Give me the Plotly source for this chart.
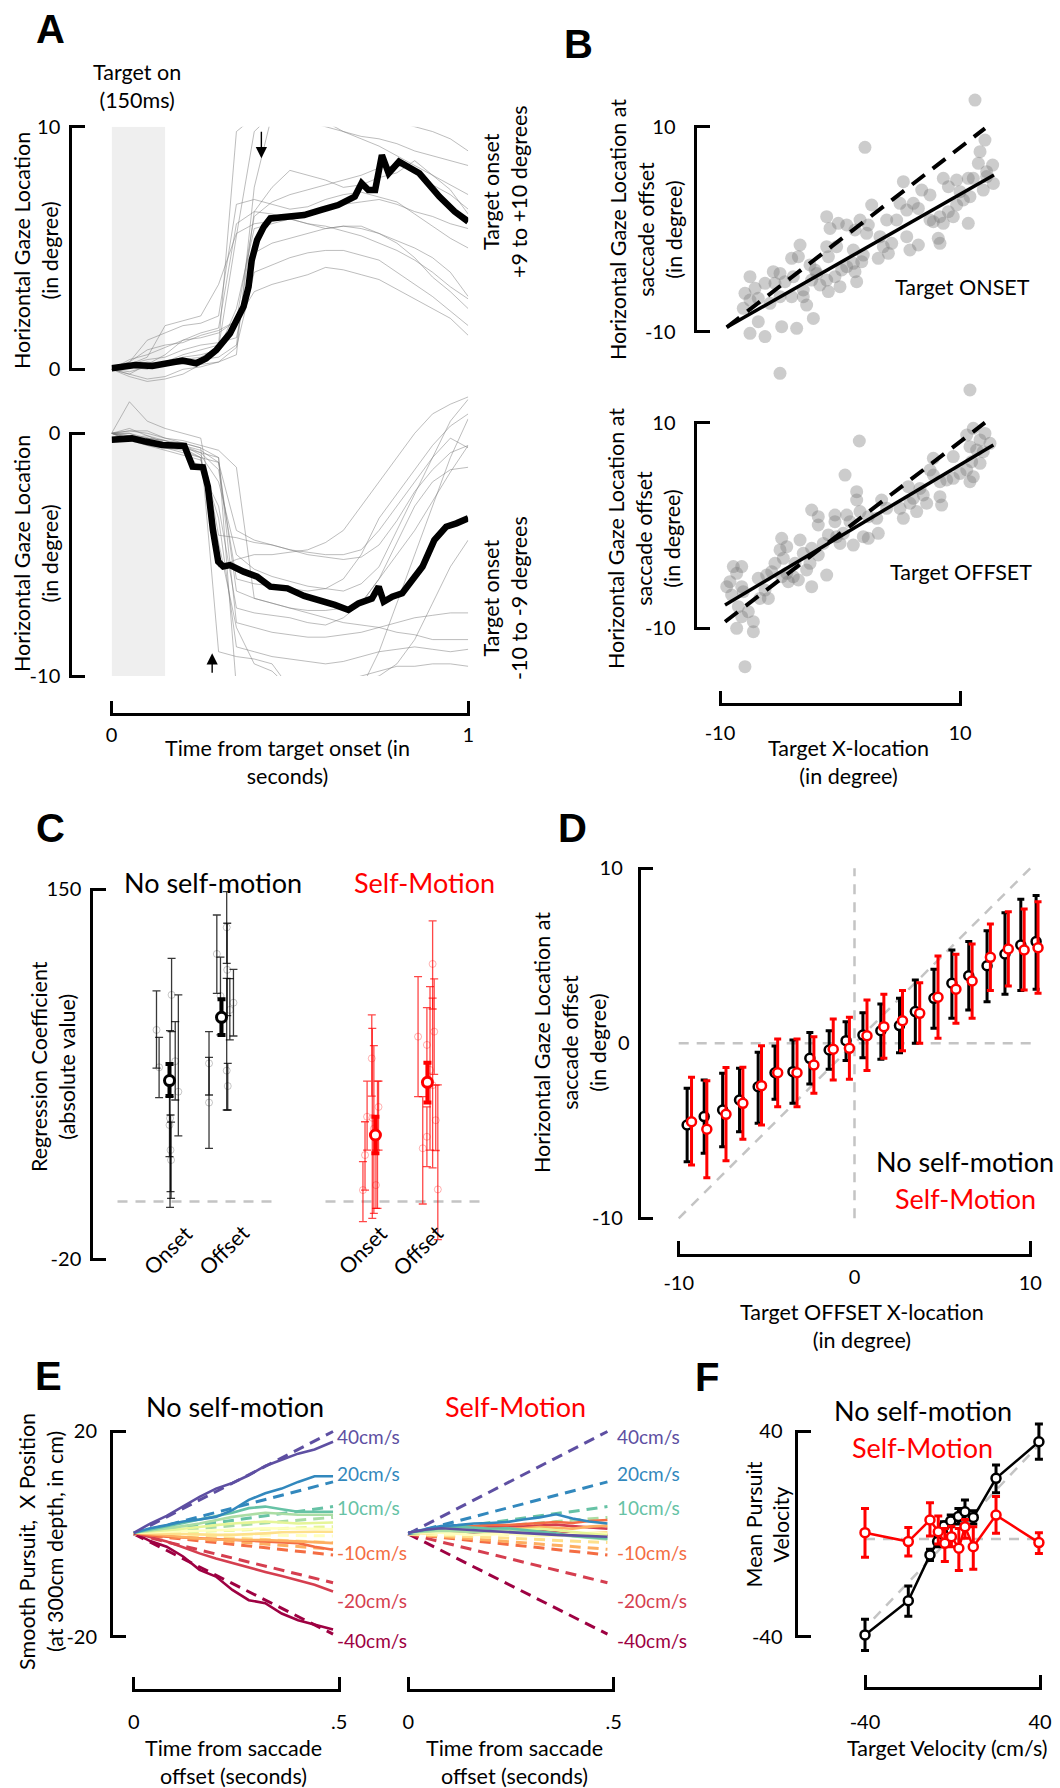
import plotly.graph_objects as go

W, H = 1060, 1788
FONT = "Lato"
RED = "#ff0000"
REFC = "#c4c4c4"
LW = 2.5

# ======================= DATA =======================
# ---- Panel A : gaze traces (time in s, position in deg) ----
a_t = [0.00, 0.05, 0.10, 0.15, 0.20, 0.25, 0.30, 0.35, 0.40, 0.45, 0.50,
       0.55, 0.60, 0.65, 0.70, 0.75, 0.80, 0.85, 0.90, 0.95, 1.00]
a_pos_trials = [
    [0, 0.1, 0.3, 0.2, 0.4, 0.5, 0.9, 5.5, 9.8, 10.5, 11, 11, 11, 11, 10.8, 10.5, 10.2, 10, 9.8, 9.5, 9.0],
    [0, -0.2, 0.2, 0.6, 1.2, 1.3, 1.5, 2.0, 6.3, 6.9, 7.2, 7.4, 7.6, 7.8, 8.0, 8.3, 8.4, 8.2, 7.6, 7.2, 6.6],
    [0.1, 0.3, 1.2, 1.5, 1.8, 1.9, 2.2, 6.8, 7.0, 6.8, 6.6, 6.7, 7.0, 7.2, 7.3, 7.1, 6.9, 6.4, 5.9, 5.4, 5.0],
    [0, 0.2, 0.4, 0.5, 0.8, 1.0, 1.1, 1.3, 4.8, 5.2, 5.4, 5.6, 5.8, 5.9, 5.8, 5.6, 5.2, 4.6, 3.8, 3.2, 2.5],
    [0, -0.3, -0.5, -0.4, -0.2, 0.2, 0.3, 0.9, 4.0, 4.3, 4.6, 4.8, 4.9, 4.9, 4.7, 4.5, 4.0, 3.5, 3.0, 2.4, 1.8],
    [0, 0.2, 0.5, 1.8, 2.0, 2.2, 3.5, 5.6, 6.0, 6.1, 6.3, 6.4, 6.6, 6.8, 6.9, 7.0, 6.8, 6.5, 6.3, 6.0, 5.8],
    [0, 0.1, 0.0, 0.3, 0.5, 0.6, 0.8, 2.5, 5.8, 6.0, 6.2, 6.0, 5.8, 5.9, 5.9, 5.6, 5.3, 5.0, 4.6, 4.0, 3.0],
    [0, 0.3, 0.8, 1.0, 1.1, 1.4, 1.6, 2.0, 3.2, 3.5, 3.7, 3.9, 4.2, 4.1, 3.9, 3.7, 3.3, 2.9, 2.5, 2.1, 1.4],
    [0, 0.1, 0.2, 0.3, 0.6, 0.8, 1.0, 9.8, 10.4, 10.8, 10.5, 10.2, 10.0, 9.8, 9.6, 9.5, 9.3, 9.0, 8.8, 8.6, 8.4],
    [0, -0.1, 0.1, 0.2, 0.2, 0.4, 0.5, 1.0, 6.5, 7.5, 8.2, 8.0, 7.8, 7.5, 7.6, 7.9, 8.1, 8.6, 8.0, 7.4, 6.4],
    [0, 0.4, 0.6, 0.9, 1.2, 1.5, 1.7, 6.0, 6.5, 6.4, 6.2, 6.0, 5.9, 5.7, 5.5, 5.2, 4.9, 4.5, 4.0, 3.4, 2.9],
    [0, -0.2, -0.4, -0.3, 0.0, 0.1, 0.3, 0.6, 7.5, 10.5, 10.8, 10.6, 10.2, 9.8, 9.5, 9.2, 8.8, 8.4, 8.0, 7.6, 7.2],
]
a_pos_mean_t = [0, 0.066, 0.114, 0.161, 0.199, 0.237, 0.265, 0.294, 0.332, 0.351, 0.370, 0.384, 0.393,
                0.408, 0.427, 0.445, 0.483, 0.540, 0.588, 0.635, 0.682, 0.701, 0.720, 0.739, 0.758,
                0.777, 0.806, 0.863, 0.919, 0.962, 1.0]
a_pos_mean_y = [0.04, 0.18, 0.14, 0.27, 0.36, 0.25, 0.45, 0.80, 1.48, 2.03, 2.58, 3.40, 4.50,
                5.33, 5.88, 6.22, 6.29, 6.36, 6.57, 6.77, 7.12, 7.67, 7.39, 7.39, 8.83,
                8.08, 8.56, 8.08, 7.12, 6.50, 6.09]
a_neg_trials = [
    [0, -0.2, -0.4, -0.5, -0.6, -1.0, -5.5, -5.2, -5.0, -5.0, -4.9, -4.8, -4.5, -4.0, -3.0, -2.0, -1.0, 0.0, 0.8, 1.2, 1.5],
    [0, -0.3, -0.2, -0.4, -0.5, -0.8, -1.5, -6.0, -6.2, -6.3, -6.4, -6.5, -6.4, -6.0, -5.0, -3.5, -2.5, -1.5, -0.5, 0.3, 0.8],
    [0, 0.0, -0.3, -0.6, -0.7, -1.0, -4.5, -8.0, -9.5, -9.8, -10.5, -11, -11, -11, -10.5, -9.0, -7.0, -5.0, -3.0, -1.0, 0.6],
    [0, -0.1, -0.2, -0.3, -0.6, -1.5, -3.0, -7.2, -7.4, -7.5, -7.6, -7.8, -7.9, -7.6, -7.0, -6.0, -5.0, -4.0, -2.8, -1.6, -0.5],
    [0, 0.2, -0.1, -0.4, -0.5, -0.7, -1.2, -4.0, -4.4, -4.6, -4.8, -5.0, -5.1, -5.2, -5.1, -4.6, -3.6, -2.4, -1.5, -0.8, -0.5],
    [0, 0.1, 0.1, -0.2, -0.4, -0.6, -9.0, -9.2, -9.3, -9.5, -10.5, -10.6, -10.5, -10.4, -10.2, -10.0, -9.5, -8.5, -7.0, -5.5, -4.4],
    [0, -0.2, -0.5, -0.6, -0.8, -1.0, -1.2, -6.5, -6.8, -7.0, -7.2, -7.4, -7.6, -7.8, -7.9, -8.0, -8.2, -8.3, -8.5, -8.5, -8.5],
    [0, 0.0, -0.2, -0.3, -0.5, -0.9, -2.0, -5.0, -5.6, -5.9, -6.1, -6.3, -6.4, -6.5, -6.2, -5.5, -4.0, -2.5, -1.0, 0.5, 1.4],
    [0, -0.3, -0.5, -0.7, -0.9, -1.1, -3.5, -8.8, -9.0, -9.2, -9.3, -9.4, -9.5, -9.4, -9.2, -9.0, -8.9, -8.8, -8.9, -9.0, -8.9],
    [0, 0.1, 0.0, -0.2, -0.3, -0.5, -0.7, -1.4, -6.8, -7.0, -7.2, -7.3, -7.3, -7.2, -7.0, -6.0, -4.5, -3.0, -2.0, -1.5, -1.4],
    [0, -0.1, -0.3, -0.4, -0.6, -0.8, -1.0, -7.8, -8.0, -8.2, -8.3, -8.4, -8.4, -8.3, -8.2, -8.0, -7.8, -7.6, -7.5, -7.4, -7.4],
    [0, 1.3, 0.5, 0.2, 0.0, -0.2, -4.2, -4.3, -4.5, -4.6, -4.8, -4.9, -5.0, -5.0, -4.8, -4.0, -3.0, -2.0, -1.0, -0.2, -0.6],
    [0, -0.2, -0.1, -0.3, -0.4, -0.6, -1.0, -10.5, -11, -11, -10.8, -10.6, -10.4, -10.2, -10.0, -9.8, -9.6, -9.6, -9.5, -9.5, -9.6],
]
a_neg_mean_t = [0, 0.057, 0.095, 0.142, 0.204, 0.227, 0.256, 0.270, 0.284, 0.299, 0.313, 0.332, 0.370,
                0.408, 0.445, 0.493, 0.540, 0.588, 0.626, 0.664, 0.692, 0.730, 0.749, 0.763, 0.787,
                0.815, 0.844, 0.872, 0.905, 0.938, 0.967, 1.0]
a_neg_mean_y = [-0.27, -0.21, -0.34, -0.48, -0.52, -1.37, -1.40, -2.20, -3.98, -5.29, -5.49, -5.43, -5.70,
                -5.91, -6.32, -6.39, -6.70, -6.87, -7.07, -7.28, -7.01, -6.81, -6.32, -6.94, -6.73,
                -6.59, -6.04, -5.49, -4.40, -3.85, -3.71, -3.50]
a_target_window = [0.0, 0.15]
a_pos_arrow = [0.42, 8.7]
a_neg_arrow = [0.282, -9.06]

# ---- Panel B : gaze at saccade offset vs target x (deg) ----
b_onset_pts = [
    (11.25, 12.6), (2.08, 7.99), (12.08, 8.7), (11.67, 7.56), (11.53, 6.43), (12.72, 6.26), (12.22, 5.61),
    (11.11, 4.96), (10.69, 4.96), (9.72, 4.8), (8.61, 4.96), (9.03, 4.15), (10.0, 3.66), (10.83, 3.17),
    (11.94, 3.82), (12.78, 4.47), (12.22, 5.13), (10.28, 2.85), (9.72, 2.36), (9.03, 1.71), (8.33, 1.22),
    (7.78, 0.73), (7.5, 0.9), (8.61, 0.57), (9.44, 1.22), (10.69, 0.57), (8.19, -0.89), (8.33, -1.38),
    (6.53, -1.54), (5.83, -2.03), (5.28, 4.64), (6.81, 3.82), (7.5, 3.34), (6.11, 2.52), (6.53, 2.03),
    (5.0, 2.52), (5.56, 1.87), (4.72, 0.9), (3.89, 0.9), (5.56, -0.73), (4.31, -1.38), (3.61, -1.7),
    (4.03, -2.35), (3.33, -0.73), (3.19, -2.84), (2.64, 2.36), (1.67, 0.9), (2.36, 0.41), (2.22, -0.4),
    (1.25, -0.08), (0.56, 0.41), (-0.14, 0.57), (-0.83, 0.08), (-1.11, 1.22), (1.11, -2.03), (1.94, -2.52),
    (1.81, -3.17), (1.11, -3.33), (0.56, -3.66), (0.14, -3.98), (-0.28, -1.7), (-1.11, -1.7), (-0.97, -2.68),
    (-0.42, -4.63), (-1.11, -4.96), (-1.94, -4.31), (-2.36, -4.96), (0.0, -5.61), (-0.97, -6.09),
    (-1.67, -5.44), (-2.08, -3.98), (1.39, -5.12), (1.25, -4.14), (-3.33, -1.54), (-3.47, -2.68),
    (-4.03, -2.84), (-2.5, -3.49), (-3.89, -4.63), (-4.58, -5.12), (-5.0, -4.31), (-5.56, -4.14),
    (-5.42, -5.28), (-6.25, -5.28), (-7.08, -5.77), (-7.5, -4.63), (-7.92, -6.26), (-7.5, -6.91),
    (-6.81, -6.74), (-5.83, -7.23), (-5.0, -6.58), (-4.03, -6.58), (-3.06, -6.58), (-2.78, -7.4),
    (-3.06, -5.93), (-8.06, -7.72), (-6.81, -9.02), (-7.5, -10.16), (-6.25, -10.48), (-4.86, -9.51),
    (-3.61, -9.67), (-2.22, -8.7), (-5.0, -14.06), (10.83, -15.69),
]
b_offset_pts = [
    (10.78, 12.79), (1.61, 8.22), (0.42, 4.91), (11.11, 9.45), (10.56, 8.8), (12.08, 8.96), (11.67, 8.32),
    (10.83, 7.67), (11.39, 7.34), (11.94, 7.18), (12.5, 7.99), (9.44, 6.7), (10.97, 6.21), (11.67, 6.05),
    (10.56, 5.4), (10.0, 5.07), (11.11, 4.75), (9.44, 4.59), (8.89, 4.43), (8.33, 4.26), (7.78, 4.91),
    (7.78, 6.53), (7.5, 5.4), (10.83, 4.26), (6.67, 3.61), (6.94, 2.97), (6.11, 2.64), (5.69, 3.78),
    (5.83, 2.16), (7.22, 2.16), (8.47, 1.99), (8.33, 2.8), (5.0, 1.67), (5.28, 0.7), (6.39, 1.35),
    (1.39, 3.29), (1.39, 2.48), (0.56, 1.02), (0.83, 0.37), (1.67, 1.35), (2.36, 0.86), (3.06, 0.7),
    (3.47, 2.48), (3.89, 1.67), (3.19, -0.76), (2.36, -1.25), (1.94, -1.09), (-2.36, 1.51), (-1.81, 0.86),
    (-1.81, 0.05), (-0.42, 1.02), (-0.42, 0.37), (-0.97, -0.92), (-0.28, -1.09), (0.0, -1.74), (1.11, -1.9),
    (0.28, -0.76), (-1.39, -1.74), (-1.81, -2.87), (-2.36, -2.22), (-3.33, -1.41), (-3.06, -2.71),
    (-2.5, -3.68), (-2.78, -4.33), (-1.11, -4.82), (-2.36, -5.95), (-3.75, -3.68), (-4.44, -2.06),
    (-4.86, -1.25), (-5.0, -2.38), (-4.72, -3.19), (-5.42, -3.68), (-5.69, -4.49), (-4.44, -4.65),
    (-3.89, -4.98), (-3.47, -5.3), (-4.31, -5.46), (-4.86, -4.98), (-6.11, -4.82), (-6.81, -5.14),
    (-6.25, -6.28), (-5.97, -7.09), (-6.67, -7.09), (-8.89, -4.0), (-8.19, -4.0), (-8.61, -4.65),
    (-9.17, -5.46), (-9.44, -5.95), (-8.19, -5.95), (-8.06, -6.44), (-9.03, -6.76), (-8.47, -7.9),
    (-7.64, -8.38), (-8.19, -8.87), (-8.61, -10.0), (-7.22, -9.36), (-7.22, -10.33), (-7.92, -13.73),
]
b_onset_fit_x = [-9.44, 12.83]
b_onset_fit_y = [-9.57, 5.29]
b_onset_unity_x = [-9.44, 12.08]
b_onset_unity_y = [-9.57, 9.84]
b_offset_fit_x = [-9.58, 12.78]
b_offset_fit_y = [-7.73, 7.83]
b_offset_unity_x = [-9.58, 12.08]
b_offset_unity_y = [-9.36, 10.0]

# ---- Panel C : regression coefficients ----
c_cat_x = [1, 2, 4.96, 5.96]
c_cat_labels = ["Onset", "Offset", "Onset", "Offset"]
c_mean_y = [62.1, 91.2, 37.1, 61.3]
c_mean_lo = [55.0, 83.1, 28.7, 52.0]
c_mean_hi = [69.7, 99.5, 45.5, 70.3]
c_nsm_subj_x = [0.75, 0.80, 1.00, 1.01, 1.02, 1.03, 1.04, 1.11, 1.17, 1.76, 1.76, 1.91, 1.98, 2.10, 2.11, 2.10, 2.12, 2.16, 2.23]
c_nsm_subj_y = [85.4, 68.2, 41.7, 44.8, 30.2, 25.6, 101.5, 71.0, 57.0, 70.0, 52.0, 120.3, 101.0, 132.5, 113.0, 66.7, 59.6, 94.6, 97.9]
c_nsm_subj_lo = [67.8, 54.3, 27.2, 3.9, 11.1, 8.0, 84.6, 53.2, 36.7, 55.5, 31.0, 102.2, 83.1, 116.0, 92.0, 48.6, 48.6, 80.8, 82.6]
c_nsm_subj_hi = [103.3, 82.0, 54.7, 85.1, 46.3, 43.0, 118.3, 89.2, 101.5, 84.6, 72.8, 138.2, 118.8, 148.9, 134.4, 109.1, 70.0, 109.0, 113.2]
c_sm_subj_x = [4.72, 4.76, 4.80, 4.89, 4.90, 4.93, 4.97, 5.00, 5.02, 5.78, 5.87, 5.95, 5.95, 6.01, 6.06, 6.06, 6.09, 6.12, 6.16]
c_sm_subj_y = [11.8, 27.9, 45.5, 72.3, 45.0, 40.0, 14.1, 37.0, 50.0, 82.3, 31.0, 78.5, 36.3, 67.0, 115.7, 60.0, 84.6, 43.9, 12.1]
c_sm_subj_lo = [-2.7, 11.8, 30.2, 55.0, -1.2, 1.1, 3.4, 3.4, 30.2, 54.7, 5.4, 61.0, 22.6, 30.2, 95.0, 22.0, 65.0, 30.0, -11.0]
c_sm_subj_hi = [24.9, 43.2, 61.9, 92.3, 86.1, 78.2, 30.2, 61.9, 61.9, 109.9, 54.7, 95.6, 50.0, 105.3, 135.5, 100.0, 108.8, 60.0, 60.1]
c_ref_level = 6.5
c_ref_spans = [[0, 3], [4, 7]]

# ---- Panel D : binned gaze vs target offset ----
d_x_nsm = [-9.52, -8.55, -7.50, -6.54, -5.48, -4.52, -3.50, -2.54, -1.44, -0.48, 0.48,
           1.50, 2.56, 3.46, 4.52, 5.54, 6.50, 7.54, 8.56, 9.46, 10.33]
d_y_nsm = [-4.67, -4.19, -3.81, -3.24, -2.48, -1.68, -1.62, -0.86, -0.38, 0.15, 0.47,
           0.72, 1.01, 1.81, 2.57, 3.43, 3.86, 4.43, 5.10, 5.62, 5.81]
d_hi_nsm = [-2.57, -2.10, -1.71, -1.43, -0.51, -0.15, 0.19, 0.61, 0.72, 1.23, 1.75,
            2.25, 2.57, 3.62, 4.23, 5.33, 5.81, 6.43, 7.46, 8.23, 8.44]
d_lo_nsm = [-6.77, -6.29, -5.91, -5.05, -4.57, -3.20, -3.43, -2.33, -1.49, -0.99, -0.82,
            -0.91, -0.54, 0.0, 0.86, 1.43, 1.90, 2.38, 2.80, 3.01, 3.09]
d_x_sm = [-9.27, -8.40, -7.31, -6.35, -5.29, -4.37, -3.27, -2.31, -1.21, -0.29, 0.71,
          1.67, 2.73, 3.71, 4.75, 5.77, 6.69, 7.73, 8.75, 9.65, 10.44]
d_y_sm = [-4.48, -4.91, -4.06, -3.43, -2.42, -1.68, -1.68, -1.24, -0.34, -0.29, 0.43,
          0.95, 1.29, 1.71, 2.63, 3.09, 3.56, 4.91, 5.39, 5.33, 5.46]
d_hi_sm = [-1.94, -2.14, -1.39, -1.37, -0.14, 0.25, 0.25, 0.38, 1.39, 1.49, 2.47,
           2.80, 3.01, 3.46, 4.99, 5.09, 5.67, 6.82, 7.52, 7.67, 8.09]
d_lo_sm = [-6.95, -7.68, -6.71, -5.49, -4.67, -3.62, -3.62, -2.86, -2.10, -2.06, -1.56,
           -0.86, -0.42, 0.0, 0.29, 1.14, 1.43, 3.01, 3.27, 3.05, 2.86]
d_ref_lines = [([-10, 10], [-10, 10]), ([0, 0], [-10, 10]), ([-10, 10.4], [0, 0])]

# ---- Panel E : smooth pursuit position (cm) over time (s) ----
e_t = [0.0, 0.04, 0.08, 0.12, 0.16, 0.20, 0.24, 0.28, 0.32, 0.36, 0.40, 0.44, 0.485]
e_speed = [-40, -20, -10, -7, -4, -1, 3, 6, 10, 20, 40]
e_target_end = [-19.5, -9.5, -4.1, -3.0, -1.7, -0.4, 1.4, 3.2, 5.3, 10.1, 19.9]
e_nsm = [
    [0.2, -1.4, -2.5, -4.4, -7.0, -8.3, -10.9, -12.9, -13.5, -15.5, -16.8, -17.7, -18.6],
    [0.2, -0.7, -1.5, -2.6, -3.8, -4.8, -5.7, -6.6, -7.4, -8.2, -9.0, -9.9, -11.2],
    [0.2, -0.3, -0.55, -0.7, -0.9, -1.0, -1.2, -1.35, -1.5, -1.65, -1.8, -2.5, -3.1],
    [0.2, -0.1, -0.4, -0.6, -0.9, -1.1, -1.2, -1.2, -1.2, -1.3, -1.5, -1.6, -1.8],
    [0.2, 0.1, 0.0, -0.1, -0.2, -0.2, -0.2, -0.1, 0.1, 0.3, 0.4, 0.4, 0.4],
    [0.2, 0.3, 0.4, 0.5, 0.6, 0.7, 0.75, 0.9, 1.1, 1.1, 1.1, 1.0, 0.9],
    [0.2, 0.4, 0.7, 1.0, 1.4, 1.7, 2.0, 2.2, 2.4, 2.2, 2.0, 2.1, 2.2],
    [0.2, 0.6, 1.1, 1.5, 2.0, 2.6, 3.3, 3.7, 4.1, 3.9, 3.7, 3.7, 3.7],
    [0.2, 0.8, 1.4, 2.1, 2.8, 3.5, 4.1, 5.0, 5.3, 4.8, 4.3, 4.3, 4.3],
    [0.2, 1.1, 1.7, 2.4, 2.8, 3.3, 4.6, 6.6, 7.9, 8.8, 10.1, 11.2, 11.2],
    [0.2, 2.0, 3.5, 5.3, 7.2, 8.8, 9.9, 11.4, 13.2, 14.4, 15.6, 16.4, 17.9],
]
e_sm = [
    [0.2, 0.3, 0.4, 0.3, 0.2, 0.4, 0.5, 0.3, 0.5, 0.4, 0.2, -0.3, -0.2],
    [0.2, 0.5, 0.8, 1.0, 1.1, 1.3, 1.5, 1.4, 1.6, 1.8, 1.5, 1.2, 1.0],
    [0.2, 0.6, 1.0, 1.2, 1.5, 1.8, 1.7, 1.9, 2.0, 2.3, 2.1, 2.5, 2.7],
    [0.2, 0.4, 0.6, 0.7, 0.9, 1.0, 0.9, 1.1, 1.3, 1.2, 1.0, 1.4, 1.6],
    [0.2, 0.1, 0.3, 0.5, 0.4, 0.2, 0.0, 0.2, 0.4, 0.1, -0.2, 0.1, 0.3],
    [0.2, 0.3, 0.2, 0.0, -0.2, -0.1, 0.1, -0.2, -0.4, -0.3, -0.1, 0.2, 0.0],
    [0.2, 0.5, 0.7, 0.9, 1.0, 0.8, 0.6, 0.8, 1.0, 0.7, 0.4, 0.1, -0.3],
    [0.2, 0.4, 0.6, 0.5, 0.3, 0.5, 0.7, 0.4, 0.1, -0.2, -0.5, -0.8, -1.1],
    [0.2, 0.7, 1.1, 1.4, 1.2, 1.0, 1.1, 0.8, 0.4, 0.1, -0.4, -0.7, -0.9],
    [0.2, 0.9, 1.5, 1.7, 2.0, 2.1, 2.3, 2.8, 3.2, 3.8, 3.0, 2.4, 2.0],
    [0.2, 0.8, 1.1, 0.9, 0.8, 0.6, 0.3, 0.1, -0.1, -0.2, -0.3, -0.4, -0.55],
]
e_label_text = ["40cm/s", "20cm/s", "10cm/s", "-10cm/s", "-20cm/s", "-40cm/s"]
e_label_speed = [40, 20, 10, -10, -20, -40]

# ---- Panel F : mean pursuit velocity vs target velocity ----
f_vel_nsm = [-40, -20.2, -10.3, -6.8, -3.9, -0.8, 2.7, 5.7, 9.5, 19.9, 39.5]
f_mean_nsm = [-39.3, -26.0, -8.2, -3.0, 3.05, 5.0, 6.7, 8.6, 6.4, 21.6, 35.8]
f_lo_nsm = [-45.4, -32.0, -10.4, -5.0, 0.8, 2.8, 3.8, 5.4, 3.8, 16.0, 29.0]
f_hi_nsm = [-33.2, -20.3, -6.0, -1.1, 4.7, 7.3, 9.9, 13.2, 9.0, 26.8, 42.7]
f_vel_sm = [-40, -20.2, -10.3, -6.5, -3.5, -0.5, 2.9, 5.7, 9.5, 19.9, 39.5]
f_mean_sm = [0.45, -3.0, 5.4, 0.8, -3.7, -1.1, -5.6, 2.8, -5.0, 7.3, -3.4]
f_lo_sm = [-9.1, -8.6, -0.8, -3.9, -10.8, -5.0, -14.3, -1.7, -13.8, 0.2, -7.6]
f_hi_sm = [9.9, 2.5, 12.1, 6.9, 2.1, 3.0, 2.1, 5.6, 2.8, 14.5, 0.45]
f_ref_lines = [([-36, 40], [-33, 35]), ([-40, 40], [-2, -2])]

# ======================= STYLE / LAYOUT =======================
SPECTRAL = ['#9e0142', '#d53e4f', '#f46d43', '#fdae61', '#fee08b', '#ffffbf',
            '#e6f598', '#abdda4', '#66c2a5', '#3288bd', '#5e4fa2']
speed_color = dict(zip(e_speed, SPECTRAL))

fig = go.Figure()
axes = {}
shapes = []
ann = []
_dummy = [40]


def akey(letter, n):
    return f"{letter}axis" if n == 1 else f"{letter}axis{n}"


def aref(letter, n):
    return letter if n == 1 else f"{letter}{n}"


def vmap(v0, p0, v1, p1):
    k = (v1 - v0) / (p1 - p0)
    return lambda p: v0 + (p - p0) * k


def real_axes(n, mx, px0, px1, my, py0, py1):
    axes[akey('x', n)] = dict(domain=[px0 / W, px1 / W], range=[mx(px0), mx(px1)],
                              visible=False, anchor=aref('y', n))
    axes[akey('y', n)] = dict(domain=[1 - py1 / H, 1 - py0 / H], range=[my(py1), my(py0)],
                              visible=False, anchor=aref('x', n))


TICKFONT = dict(size=20, color='black', family=FONT)
PADPX = 1.5   # inside ticks must sit a little inside the axis ends


def bracket_common(lo, hi, labels, standoff, e):
    return dict(range=[lo - e, hi + e], showline=True, linecolor='black',
                linewidth=LW, ticks='inside', ticklen=13, tickwidth=LW, tickcolor='black',
                tickmode='array', tickvals=[lo, hi], ticktext=labels, tickfont=TICKFONT,
                showgrid=False, zeroline=False, ticklabelstandoff=standoff)


def new_dummy():
    k = _dummy[0]
    _dummy[0] += 1
    return k


def y_bracket(n, lo, hi, p_lo, p_hi, xpos, labels, standoff):
    e = PADPX * (hi - lo) / (p_lo - p_hi)
    k = new_dummy()
    axes[akey('x', k)] = dict(domain=[xpos / W, (xpos + 10) / W], range=[0, 1],
                              visible=False, anchor=aref('y', n))
    d = bracket_common(lo, hi, labels, standoff, e)
    d.update(domain=[1 - (p_lo + PADPX) / H, 1 - (p_hi - PADPX) / H], anchor=aref('x', k), side='left')
    axes[akey('y', n)] = d
    fig.add_trace(go.Scatter(x=[], y=[], xaxis=aref('x', k), yaxis=aref('y', n),
                             showlegend=False, hoverinfo='skip'))


def x_bracket(n, lo, hi, p_lo, p_hi, ypos, labels, standoff):
    e = PADPX * (hi - lo) / (p_hi - p_lo)
    k = new_dummy()
    axes[akey('y', k)] = dict(domain=[1 - ypos / H, 1 - (ypos - 10) / H], range=[0, 1],
                              visible=False, anchor=aref('x', n))
    d = bracket_common(lo, hi, labels, standoff, e)
    d.update(domain=[(p_lo - PADPX) / W, (p_hi + PADPX) / W], anchor=aref('y', k), side='bottom')
    axes[akey('x', n)] = d
    fig.add_trace(go.Scatter(x=[], y=[], xaxis=aref('x', n), yaxis=aref('y', k),
                             showlegend=False, hoverinfo='skip'))


def text(t, cx, cy, size=22, color='black', angle=0, xanchor='center', family=FONT):
    ann.append(dict(text=t, x=cx / W, y=1 - cy / H, xref='paper', yref='paper', showarrow=False,
                    xanchor=xanchor, yanchor='middle', textangle=angle,
                    font=dict(size=size, color=color, family=family)))


def line(x, y, xa, ya, color, width, dash=None):
    fig.add_trace(go.Scatter(x=x, y=y, mode='lines', xaxis=xa, yaxis=ya,
                             line=dict(color=color, width=width, dash=dash),
                             showlegend=False, hoverinfo='skip'))


# ---------------- Panel A ----------------
mxA = vmap(0, 111.6, 1, 468.2)
myA1 = vmap(0, 369.3, 10, 126.7)
myA2 = vmap(0, 433.3, -10, 676.0)
real_axes(1, mxA, 111.6, 468.2, myA1, 126.7, 392)
real_axes(2, mxA, 111.6, 468.2, myA2, 392, 676.0)
for n in (1, 2):
    yr = axes[akey('y', n)]['range']
    shapes.append(dict(type='rect', xref=aref('x', n), yref=aref('y', n), layer='below',
                       x0=a_target_window[0], x1=a_target_window[1], y0=yr[0], y1=yr[1],
                       fillcolor='#efefef', line=dict(width=0)))
for tr in a_pos_trials:
    line(a_t, tr, 'x', 'y', 'rgba(120,120,120,0.55)', 0.9)
line(a_pos_mean_t, a_pos_mean_y, 'x', 'y', 'black', 6.5)
for tr in a_neg_trials:
    line(a_t, tr, 'x2', 'y2', 'rgba(120,120,120,0.55)', 0.9)
line(a_neg_mean_t, a_neg_mean_y, 'x2', 'y2', 'black', 6.5)
ann.append(dict(x=a_pos_arrow[0], y=a_pos_arrow[1], xref='x', yref='y', text='', showarrow=True,
                ax=0, ay=-28, arrowhead=2, arrowsize=1.6, arrowwidth=1.4, arrowcolor='black', standoff=0))
ann.append(dict(x=a_neg_arrow[0], y=a_neg_arrow[1], xref='x2', yref='y2', text='', showarrow=True,
                ax=0, ay=21, arrowhead=2, arrowsize=1.6, arrowwidth=1.4, arrowcolor='black', standoff=0))
y_bracket(10, 0, 10, 369.3, 126.7, 72, ['0', '10'], 5)
y_bracket(11, -10, 0, 676.0, 433.3, 72, ['-10', '0'], 5)
x_bracket(10, 0, 1, 111.6, 468.2, 713.3, ['0', '1'], 2)

# ---------------- Panel B ----------------
mxB = vmap(-10, 720, 10, 960)
myB3 = vmap(10, 126.7, -10, 331.7)
myB4 = vmap(10, 422.7, -10, 628.3)
real_axes(3, mxB, 705, 1005, myB3, 80, 395)
real_axes(4, mxB, 705, 1005, myB4, 395, 690)
for n, pts, fx, fy, ux, uy in ((3, b_onset_pts, b_onset_fit_x, b_onset_fit_y, b_onset_unity_x, b_onset_unity_y),
                               (4, b_offset_pts, b_offset_fit_x, b_offset_fit_y, b_offset_unity_x, b_offset_unity_y)):
    fig.add_trace(go.Scatter(x=[p[0] for p in pts], y=[p[1] for p in pts], mode='markers',
                             xaxis=aref('x', n), yaxis=aref('y', n), cliponaxis=False,
                             marker=dict(size=13, color='rgba(120,120,120,0.38)', line=dict(width=0)),
                             showlegend=False, hoverinfo='skip'))
    line(ux, uy, aref('x', n), aref('y', n), 'black', 4, dash='16px,10px')
    line(fx, fy, aref('x', n), aref('y', n), 'black', 3.5)
y_bracket(12, -10, 10, 331.7, 126.7, 697.3, ['-10', '10'], 15)
y_bracket(13, -10, 10, 628.3, 422.7, 697.3, ['-10', '10'], 15)
x_bracket(11, -10, 10, 720, 960, 703.3, ['-10', '10'], 10)

# ---------------- Panel C ----------------
mxC = vmap(1, 169.5, 2, 221.5)
myC = vmap(150, 889.3, -20, 1259.3)
real_axes(5, mxC, 93, 505, myC, 850, 1268)
for span in c_ref_spans:
    line(span, [c_ref_level, c_ref_level], 'x5', 'y5', REFC, 2.5, dash='10px,8px')


def err_scatter(x, y, lo, hi, xa, ya, mcolor, ecolor, msize, mlw, mfill, ethick, ewidth):
    fig.add_trace(go.Scatter(
        x=x, y=y, mode='markers', xaxis=xa, yaxis=ya, cliponaxis=False,
        marker=dict(symbol='circle', size=msize, color=mfill, line=dict(color=mcolor, width=mlw)),
        error_y=dict(type='data', symmetric=False,
                     array=[h - v for h, v in zip(hi, y)],
                     arrayminus=[v - l for l, v in zip(lo, y)],
                     color=ecolor, thickness=ethick, width=ewidth),
        showlegend=False, hoverinfo='skip'))


err_scatter(c_nsm_subj_x, c_nsm_subj_y, c_nsm_subj_lo, c_nsm_subj_hi, 'x5', 'y5',
            'rgba(0,0,0,0.22)', 'rgba(0,0,0,0.78)', 7, 1, 'rgba(0,0,0,0)', 1.3, 4)
err_scatter(c_sm_subj_x, c_sm_subj_y, c_sm_subj_lo, c_sm_subj_hi, 'x5', 'y5',
            'rgba(255,0,0,0.3)', 'rgba(255,0,0,0.72)', 7, 1, 'rgba(0,0,0,0)', 1.3, 4)
err_scatter(c_cat_x[:2], c_mean_y[:2], c_mean_lo[:2], c_mean_hi[:2], 'x5', 'y5',
            'black', 'black', 10, 3, 'white', 4, 4)
err_scatter(c_cat_x[2:], c_mean_y[2:], c_mean_lo[2:], c_mean_hi[2:], 'x5', 'y5',
            RED, RED, 10, 3, 'white', 4, 4)
y_bracket(14, -20, 150, 1259.3, 889.3, 93, ['-20', '150'], 5)

# ---------------- Panel D ----------------
mxD = vmap(-10, 678.7, 10, 1030.3)
myD = vmap(10, 868.3, -10, 1218.3)
real_axes(6, mxD, 655, 1050, myD, 855, 1232)
axes['xaxis6'].update(visible=True, anchor='free', position=1 - 1254 / H, showline=False, ticks='',
                      showgrid=False, zeroline=False, tickmode='array', tickvals=[0], ticktext=['0'],
                      tickfont=TICKFONT, ticklabelstandoff=9)
axes['yaxis6'].update(visible=True, anchor='free', position=640.5 / W, showline=False, ticks='',
                      showgrid=False, zeroline=False, tickmode='array', tickvals=[0], ticktext=['0'],
                      tickfont=TICKFONT, ticklabelstandoff=11)
for rx, ry in d_ref_lines:
    line(rx, ry, 'x6', 'y6', REFC, 2.5, dash='10px,8px')
err_scatter(d_x_nsm, d_y_nsm, d_lo_nsm, d_hi_nsm, 'x6', 'y6', 'black', 'black', 9, 2.5, 'white', 3, 3.5)
err_scatter(d_x_sm, d_y_sm, d_lo_sm, d_hi_sm, 'x6', 'y6', RED, RED, 9, 2.5, 'white', 3, 3.5)
y_bracket(15, -10, 10, 1218.3, 868.3, 640.5, ['-10', '10'], 11)
x_bracket(12, -10, 10, 678.7, 1030.3, 1254, ['-10', '10'], 9)

# ---------------- Panel E ----------------
mxE7 = vmap(0, 133.8, 0.5, 339.2)
mxE8 = vmap(0, 408.2, 0.5, 613.6)
myE = vmap(20, 1431, -20, 1636.7)
real_axes(7, mxE7, 126, 346, myE, 1415, 1655)
real_axes(8, mxE8, 400, 622, myE, 1415, 1655)
for xa, ya, traces in (('x7', 'y7', e_nsm), ('x8', 'y8', e_sm)):
    for sp, end in zip(e_speed, e_target_end):
        line([0, e_t[-1]], [0, end], xa, ya, speed_color[sp], 3, dash='11px,7px')
    for sp, tr in zip(e_speed, traces):
        line(e_t, tr, xa, ya, speed_color[sp], 2.6)
y_bracket(16, -20, 20, 1636.7, 1431, 112.8, ['-20', '20'], 9)
x_bracket(13, 0, 0.5, 133.8, 339.2, 1689.3, ['0', '.5'], 13)
x_bracket(14, 0, 0.5, 408.2, 613.6, 1689.3, ['0', '.5'], 13)

# ---------------- Panel F ----------------
mxF = vmap(-40, 865, 40, 1040)
myF = vmap(40, 1431, -40, 1636.7)
real_axes(9, mxF, 845, 1058, myF, 1415, 1655)
for rx, ry in f_ref_lines:
    line(rx, ry, 'x9', 'y9', REFC, 2.5, dash='10px,8px')
for vx, vm, lo, hi, col in ((f_vel_nsm, f_mean_nsm, f_lo_nsm, f_hi_nsm, 'black'),
                            (f_vel_sm, f_mean_sm, f_lo_sm, f_hi_sm, RED)):
    fig.add_trace(go.Scatter(
        x=vx, y=vm, mode='lines+markers', xaxis='x9', yaxis='y9', cliponaxis=False,
        line=dict(color=col, width=2.5),
        marker=dict(symbol='circle', size=9, color='white', line=dict(color=col, width=2.5)),
        error_y=dict(type='data', symmetric=False, array=[h - v for h, v in zip(hi, vm)],
                     arrayminus=[v - l for l, v in zip(lo, vm)], color=col, thickness=3, width=4),
        showlegend=False, hoverinfo='skip'))
y_bracket(17, -40, 40, 1636.7, 1431, 798.3, ['-40', '40'], 9)
x_bracket(15, -40, 40, 865, 1040, 1687.3, ['-40', '40'], 15)

# ---------------- Text ----------------
LET = "Liberation Sans"
for lt, cx, cy in (("A", 50.7, 29), ("B", 578, 44), ("C", 50.7, 828), ("D", 572, 828),
                   ("E", 48.4, 1376), ("F", 707, 1377)):
    text(f"<b>{lt}</b>", cx, cy, size=40, family=LET)

LAB = 21.5
text("Target on<br>(150ms)", 137, 86, size=LAB)
text("Horizontal Gaze Location<br>(in degree)", 36, 251, size=LAB, angle=-90)
text("Horizontal Gaze Location<br>(in degree)", 36, 554, size=LAB, angle=-90)
text("Target onset<br>+9 to +10 degrees", 505, 192, size=LAB, angle=-90)
text("Target onset<br>-10 to -9 degrees", 505, 598, size=LAB, angle=-90)
text("Time from target onset (in<br>seconds)", 287, 762, size=LAB)

text("Horizontal Gaze Location at<br>saccade offset<br>(in degree)", 646, 230, size=LAB, angle=-90)
text("Horizontal Gaze Location at<br>saccade offset<br>(in degree)", 644, 539, size=LAB, angle=-90)
text("Target ONSET", 893, 287, size=LAB, xanchor='left')
text("Target OFFSET", 888, 572, size=LAB, xanchor='left')
text("Target X-location<br>(in degree)", 848, 762, size=LAB)

text("No self-motion", 213, 882, size=27)
text("Self-Motion", 424, 882, size=27, color=RED)
text("Regression Coefficient<br>(absolute value)", 53, 1067, size=LAB, angle=-90)
for lab, cx in zip(c_cat_labels, (168, 224, 362.6, 418.4)):
    text(lab, cx, 1250, size=LAB, angle=-45)

text("Horizontal Gaze Location at<br>saccade offset<br>(in degree)", 570, 1043, size=LAB, angle=-90)
text("No self-motion", 965, 1161.7, size=27)
text("Self-Motion", 965, 1198.3, size=27, color=RED)
text("Target OFFSET X-location<br>(in degree)", 862, 1326, size=LAB)

text("No self-motion", 234.6, 1406.7, size=27)
text("Self-Motion", 515.6, 1406.7, size=27, color=RED)
text("Smooth Pursuit,\u00a0 X Position<br>(at 300cm depth, in cm)", 40.4, 1541.5, size=LAB, angle=-90)
for lab, sp, cy in zip(e_label_text, e_label_speed, (1436, 1473.3, 1507.3, 1552.3, 1600, 1640)):
    text(lab, 335, cy, size=19, color=speed_color[sp], xanchor='left')
    text(lab, 615, cy, size=19, color=speed_color[sp], xanchor='left')
text("Time from saccade<br>offset (seconds)", 233.6, 1761.5, size=LAB)
text("Time from saccade<br>offset (seconds)", 514.3, 1761.5, size=LAB)

text("No self-motion", 923, 1410, size=27)
text("Self-Motion", 922, 1447.3, size=27, color=RED)
text("Mean Pursuit<br>Velocity", 767.5, 1525, size=LAB, angle=-90)
text("Target Velocity (cm/s)", 845, 1748.3, size=LAB, xanchor='left')

fig.update_layout(
    width=W, height=H, autosize=False,
    margin=dict(l=0, r=0, t=0, b=0, pad=0, autoexpand=False),
    paper_bgcolor='white', plot_bgcolor='rgba(0,0,0,0)',
    font=dict(family=FONT, color='black', size=20),
    showlegend=False, shapes=shapes, annotations=ann,
    **axes,
)

fig.write_html("out.html", include_plotlyjs=True, config={'displayModeBar': False},
               post_script="document.body.style.margin='0px';")
